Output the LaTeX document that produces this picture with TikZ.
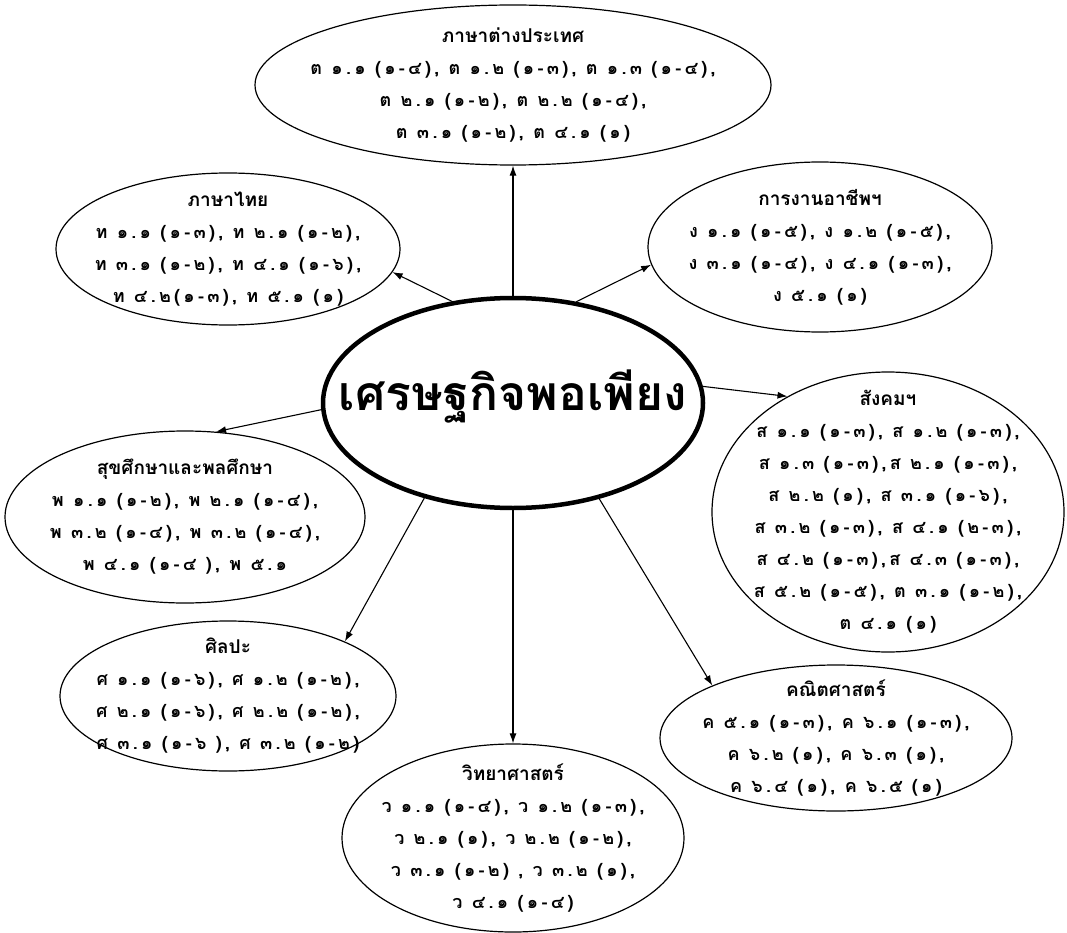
\documentclass[tikz,border=0pt]{standalone}
\usepackage{fontspec}
\newfontfamily\thaifont[Script=Thai]{Loma}
\newfontfamily\thaicodes[Script=Thai, LetterSpace=18]{Loma}
\usetikzlibrary{shapes.geometric, arrows.meta}

\begin{document}
\begin{tikzpicture}[x=1pt, y=-1pt,
    area/.style={ellipse, draw, line width=1.2pt, inner sep=0pt},
    codes/.style={align=center, font=\thaicodes\bfseries\fontsize{18}{32}\selectfont},
    link/.style={-{Latex[length=10pt,width=7pt]}, line width=1.1pt}]
    \useasboundingbox (0,0) rectangle (1067,933);
    \newcommand{\areatitle}[1]{{\thaifont\bfseries\fontsize{19}{32}\selectfont #1}}

    % Centre
    \node[ellipse, draw, line width=4.5pt, minimum width=380pt, minimum height=210pt] (ctr) at (513,403) {};
    \node[font=\thaifont\bfseries\fontsize{48}{52}\selectfont] (ctrtext) at (513,397) {เศรษฐกิจพอเพียง};

    % Subject areas
    \node[area, minimum width=516pt, minimum height=160pt] (lang) at (513,85) {};
    \node[area, minimum width=344pt, minimum height=152pt] (thai) at (228,249) {};
    \node[area, minimum width=344pt, minimum height=170pt] (career) at (820,247) {};
    \node[area, minimum width=352pt, minimum height=280pt] (social) at (888,512) {};
    \node[area, minimum width=360pt, minimum height=172pt] (health) at (185,517) {};
    \node[area, minimum width=336pt, minimum height=150pt] (art) at (228,696) {};
    \node[area, minimum width=342pt, minimum height=188pt] (sci) at (513,838) {};
    \node[area, minimum width=352pt, minimum height=146pt] (math) at (836,738) {};

    \node[codes] (langtext) at (lang) {\areatitle{ภาษาต่างประเทศ}\\
        ต ๑.๑ (๑-๔), ต ๑.๒ (๑-๓), ต ๑.๓ (๑-๔),\\
        ต ๒.๑ (๑-๒), ต ๒.๒ (๑-๔),\\
        ต ๓.๑ (๑-๒), ต ๔.๑ (๑)};
    \node[codes] (thaitext) at (thai) {\areatitle{ภาษาไทย}\\
        ท ๑.๑ (๑-๓), ท ๒.๑ (๑-๒),\\
        ท ๓.๑ (๑-๒), ท ๔.๑ (๑-๖),\\
        ท ๔.๒(๑-๓), ท ๕.๑ (๑)};
    \node[codes] (careertext) at (career) {\areatitle{การงานอาชีพฯ}\\
        ง ๑.๑ (๑-๕), ง ๑.๒ (๑-๕),\\
        ง ๓.๑ (๑-๔), ง ๔.๑ (๑-๓),\\
        ง ๕.๑ (๑)};
    \node[codes] (socialtext) at (social) {\areatitle{สังคมฯ}\\
        ส ๑.๑ (๑-๓), ส ๑.๒ (๑-๓),\\
        ส ๑.๓ (๑-๓),ส ๒.๑ (๑-๓),\\
        ส ๒.๒ (๑), ส ๓.๑ (๑-๖),\\
        ส ๓.๒ (๑-๓), ส ๔.๑ (๒-๓),\\
        ส ๔.๒ (๑-๓),ส ๔.๓ (๑-๓),\\
        ส ๕.๒ (๑-๕), ต ๓.๑ (๑-๒),\\
        ต ๔.๑ (๑)};
    \node[codes] (healthtext) at (health) {\areatitle{สุขศึกษาและพลศึกษา}\\
        พ ๑.๑ (๑-๒), พ ๒.๑ (๑-๔),\\
        พ ๓.๒ (๑-๔), พ ๓.๒ (๑-๔),\\
        พ ๔.๑ (๑-๔ ), พ ๕.๑};
    \node[codes] (arttext) at (art) {\areatitle{ศิลปะ}\\
        ศ ๑.๑ (๑-๖), ศ ๑.๒ (๑-๒),\\
        ศ ๒.๑ (๑-๖), ศ ๒.๒ (๑-๒),\\
        ศ ๓.๑ (๑-๖ ), ศ ๓.๒ (๑-๒)};
    \node[codes] (scitext) at (sci) {\areatitle{วิทยาศาสตร์}\\
        ว ๑.๑ (๑-๔), ว ๑.๒ (๑-๓),\\
        ว ๒.๑ (๑), ว ๒.๒ (๑-๒),\\
        ว ๓.๑ (๑-๒) , ว ๓.๒ (๑),\\
        ว ๔.๑ (๑-๔)};
    \node[codes] (mathtext) at (math) {\areatitle{คณิตศาสตร์}\\
        ค ๕.๑ (๑-๓), ค ๖.๑ (๑-๓),\\
        ค ๖.๒ (๑), ค ๖.๓ (๑),\\
        ค ๖.๔ (๑), ค ๖.๕ (๑)};

    \draw[link] (ctr.90) -- (lang.270);
    \draw[link] (ctr.121) -- (thai.-8);
    \draw[link] (ctr.58) -- (career.186);
    \draw[link] (ctr.5) -- (social.131);
    \draw[link] (ctr.182) -- (health.70);
    \draw[link] (ctr.227) -- (art.25);
    \draw[link] (ctr.270) -- (sci.90);
    \draw[link] (ctr.-48) -- (math.157);
\end{tikzpicture}
\end{document}
